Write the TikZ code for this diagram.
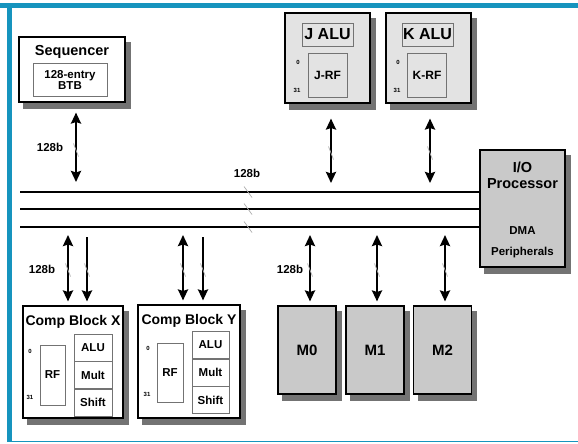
\documentclass[tikz,border=0pt]{standalone}
\usepackage{fontspec}
\setmainfont{Liberation Sans}
\usetikzlibrary{arrows.meta,positioning}

\definecolor{framecol}{RGB}{22,148,190}
\pgfdeclarelayer{background}
\pgfsetlayers{background,main}

% small slash across a wire
\newcommand{\wiretick}[1]{\draw[tick] ([shift={(-2.5,-6.5)}]#1) -- ([shift={(2.5,6.5)}]#1);}

\begin{document}
\begin{tikzpicture}[x=1pt, y=-1pt, font=\bfseries]

% Set the page and its frame
\useasboundingbox (0,0) rectangle (578,444);
\fill[framecol] (0,3) rectangle (578,8);
\fill[framecol] (7,3) rectangle (12,442);
\draw[framecol, line width=1.2pt] (7,441.5) -- (578,441.5);

% Define styles for units, inner boxes and wires
\tikzstyle{unit} = [draw=black, line width=1.1pt, fill=white, inner sep=0pt]
\tikzstyle{shade} = [fill=black!55]
\tikzstyle{inbox} = [draw=black!55, line width=0.6pt, fill=white, inner sep=0pt, font=\fontsize{11.5}{12}\bfseries]
\tikzstyle{memory} = [unit, fill=gray!42, minimum width=58pt, minimum height=88pt, font=\fontsize{15}{16}\bfseries]
\tikzstyle{title} = [inner sep=0pt, font=\fontsize{14.5}{16}\bfseries]
\tikzstyle{small} = [inner sep=0pt, font=\fontsize{11.5}{12}\bfseries]
\tikzstyle{idx} = [inner sep=0pt, font=\fontsize{6}{6}\bfseries]
\tikzstyle{bus} = [line width=2.4pt]
\tikzstyle{biarrow} = [line width=2.4pt, {Stealth[length=11pt,width=10pt,inset=1.5pt]}-{Stealth[length=11pt,width=10pt,inset=1.5pt]}]
\tikzstyle{downarrow} = [line width=2.4pt, -{Stealth[length=11pt,width=10pt,inset=1.5pt]}]
\tikzstyle{tick} = [draw=gray!65, line width=0.7pt]

% Sequencer
\node[unit, minimum width=106pt, minimum height=65pt] (seq) at (72,69.5) {};
\node[title] at (72,52) {Sequencer};
\node[inbox, minimum width=74pt, minimum height=33pt, align=center] (btb) at (70,79.5) {128-entry\\[-1pt]BTB};

% J and K ALUs
\node[unit, fill=gray!22, minimum width=85pt, minimum height=90pt] (jalu) at (327.5,58) {};
\node[inbox, fill=gray!22, minimum width=51pt, minimum height=23pt, font=\fontsize{16}{16}\bfseries] (jname) at (327.5,34.5) {J ALU};
\node[inbox, fill=gray!22, minimum width=39pt, minimum height=44pt, font=\fontsize{12}{12}\bfseries] (jrf) at (327.5,75) {J-RF};
\node[idx] at (298,62) {0};
\node[idx] at (297,90) {31};

\node[unit, fill=gray!22, minimum width=85pt, minimum height=90pt] (kalu) at (428.5,58) {};
\node[inbox, fill=gray!22, minimum width=51pt, minimum height=23pt, font=\fontsize{16}{16}\bfseries] (kname) at (427.5,34.5) {K ALU};
\node[inbox, fill=gray!22, minimum width=39pt, minimum height=44pt, font=\fontsize{12}{12}\bfseries] (krf) at (427,75) {K-RF};
\node[idx] at (398,62) {0};
\node[idx] at (397,90) {31};

% I/O processor
\node[unit, fill=gray!42, minimum width=85pt, minimum height=117pt] (io) at (522.5,208.5) {};
\node[title] at (522.5,167) {I/O};
\node[title] at (522.5,184) {Processor};
\node[small] at (522.5,231) {DMA};
\node[small] at (522.5,253) {Peripherals};

% Compute blocks
\node[unit, minimum width=100pt, minimum height=112pt] (cbx) at (73,362) {};
\node[title, font=\fontsize{14}{16}\bfseries] at (73,322) {Comp Block X};
\node[inbox, minimum width=25pt, minimum height=60pt] (rfx) at (52.5,375) {RF};
\node[inbox, minimum width=38pt, minimum height=27pt] (alux) at (93,347.5) {ALU};
\node[inbox, minimum width=38pt, minimum height=27pt, below=0pt of alux] (multx) {Mult};
\node[inbox, minimum width=38pt, minimum height=27pt, below=0pt of multx] (shiftx) {Shift};
\node[idx] at (30,351) {0};
\node[idx] at (30,397) {31};

\node[unit, minimum width=102pt, minimum height=113pt] (cby) at (189,361.5) {};
\node[title, font=\fontsize{14}{16}\bfseries] at (189,321) {Comp Block Y};
\node[inbox, minimum width=26pt, minimum height=59pt] (rfy) at (170,372.5) {RF};
\node[inbox, minimum width=37pt, minimum height=27pt] (aluy) at (210.5,345) {ALU};
\node[inbox, minimum width=37pt, minimum height=27pt, below=0pt of aluy] (multy) {Mult};
\node[inbox, minimum width=37pt, minimum height=27pt, below=0pt of multy] (shifty) {Shift};
\node[idx] at (148,348) {0};
\node[idx] at (147,394) {31};

% Memory banks
\node[memory] (m0) at (307,350) {M0};
\node[memory] (m1) at (375,350) {M1};
\node[memory] (m2) at (442.5,350) {M2};

% Drop shadows behind the units
\begin{pgfonlayer}{background}
\foreach \n in {seq,jalu,kalu,io,cbx,cby,m0,m1,m2}
    {\fill[shade] ([shift={(5,6)}]\n.south west) rectangle ([shift={(5,6)}]\n.north east);}
\end{pgfonlayer}

% Three buses
\coordinate (bus1) at (20,192);
\coordinate (bus2) at (20,209);
\coordinate (bus3) at (20,227);
\draw[bus] (bus1) -- (io.west |- bus1);
\draw[bus] (bus2) -- (io.west |- bus2);
\draw[bus] (bus3) -- (io.west |- bus3);
\foreach \y in {192,209,227}
    {\draw[tick] (244,\y-5.5) -- (252,\y+5.5);}
\node[small] at (247,173) {128b};

% Links above the buses
\draw[biarrow, shorten <=10pt, shorten >=10pt] ([xshift=4pt]seq.south) -- ([xshift=4pt]seq.south |- bus1);
\draw[biarrow, shorten <=15pt, shorten >=9pt] ([xshift=3.5pt]jalu.south) -- ([xshift=3.5pt]jalu.south |- bus1);
\draw[biarrow, shorten <=15pt, shorten >=9pt] ([xshift=1.5pt]kalu.south) -- ([xshift=1.5pt]kalu.south |- bus1);
\wiretick{76,150}
\wiretick{331,153}
\wiretick{430,153}
\node[small] at (50,147) {128b};

% Links below the buses
\draw[biarrow, shorten <=8pt, shorten >=4pt] ([xshift=-5pt]cbx.north |- bus3) -- ([xshift=-5pt]cbx.north);
\draw[downarrow, shorten <=10pt, shorten >=4pt] ([xshift=14pt]cbx.north |- bus3) -- ([xshift=14pt]cbx.north);
\draw[biarrow, shorten <=8pt, shorten >=4pt] ([xshift=-6pt]cby.north |- bus3) -- ([xshift=-6pt]cby.north);
\draw[downarrow, shorten <=10pt, shorten >=4pt] ([xshift=14pt]cby.north |- bus3) -- ([xshift=14pt]cby.north);
\draw[biarrow, shorten <=8pt, shorten >=4pt] ([xshift=3pt]m0.north |- bus3) -- ([xshift=3pt]m0.north);
\draw[biarrow, shorten <=8pt, shorten >=4pt] ([xshift=2pt]m1.north |- bus3) -- ([xshift=2pt]m1.north);
\draw[biarrow, shorten <=8pt, shorten >=4pt] ([xshift=2.5pt]m2.north |- bus3) -- ([xshift=2.5pt]m2.north);
\foreach \x in {68,87,183,203,310,377,445}
    {\wiretick{\x,270}}
\node[small] at (42,269) {128b};
\node[small] at (290,269) {128b};

\end{tikzpicture}
\end{document}
